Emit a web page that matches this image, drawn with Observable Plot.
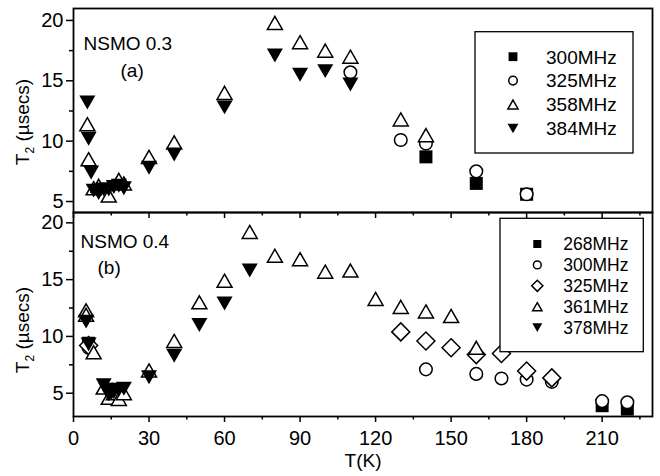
<!DOCTYPE html>
<html><head><meta charset="utf-8">
<script src="https://cdn.jsdelivr.net/npm/d3@7"></script>
<script src="https://cdn.jsdelivr.net/npm/@observablehq/plot@0.6"></script>
<style>
body{margin:0;background:#fff;}
#chart{width:660px;height:476px;position:relative;overflow:hidden;}
#chart svg{display:block;overflow:visible;position:absolute;left:0;}
</style></head><body><div id="chart"></div>
<script>
// ---------- DATA ----------
// Panel (a) NSMO 0.3
const a300T = [140, 160, 180];
const a300V = [8.7, 6.5, 5.6];
const a325T = [110, 130, 140, 160, 180];
const a325V = [15.7, 10.1, 9.8, 7.5, 5.6];
const a358T = [5.5, 6, 8, 10, 14, 18, 20, 30, 40, 60, 80, 90, 100, 110, 130, 140];
const a358V = [11.4, 8.5, 6.1, 6.3, 5.5, 6.8, 6.5, 8.7, 9.9, 14.0, 19.8, 18.2, 17.5, 17.0, 11.8, 10.5];
const a384T = [5.5, 6, 7, 8, 10, 12, 14, 16, 18, 20, 30, 40, 60, 80, 90, 100, 110];
const a384V = [13.2, 10.2, 7.4, 5.9, 5.7, 6.0, 6.0, 6.2, 6.3, 6.1, 7.8, 8.9, 12.8, 17.1, 15.5, 15.8, 14.7];
// Panel (b) NSMO 0.4
const b268T = [6, 210, 220];
const b268V = [9.4, 3.9, 3.6];
const b300T = [6, 140, 160, 170, 180, 190, 210, 220];
const b300V = [9.0, 7.1, 6.7, 6.3, 6.2, 6.0, 4.3, 4.2];
const b325T = [6, 130, 140, 150, 160, 170, 180, 190];
const b325V = [9.2, 10.4, 9.6, 9.0, 8.4, 8.5, 6.95, 6.35];
const b361T = [5, 5, 8, 12, 14, 16, 18, 20, 30, 40, 50, 60, 70, 80, 90, 100, 110, 120, 130, 140, 150, 160];
const b361V = [12.3, 11.9, 8.6, 5.5, 4.6, 5.0, 4.5, 5.0, 7.0, 9.6, 13.0, 14.9, 19.2, 17.1, 16.8, 15.7, 15.8, 13.3, 12.6, 12.2, 11.8, 9.0];
const b378T = [5, 6, 12, 13, 14, 15, 16, 18, 20, 30, 40, 50, 60, 70];
const b378V = [11.3, 9.3, 5.7, 5.3, 4.9, 5.0, 5.1, 5.3, 5.4, 6.4, 8.3, 11.0, 12.9, 15.8];
// Tick values
const xMajor = [0, 30, 60, 90, 120, 150, 180, 210];
const xMinor = [15, 45, 75, 105, 135, 165, 195, 225];
const yMajor = [5, 10, 15, 20];
const yMinor = [7.5, 12.5, 17.5];
// Labels
const panelNames = ["NSMO 0.3", "NSMO 0.4"];
const panelTags = ["(a)", "(b)"];
const legendA = ["300MHz", "325MHz", "358MHz", "384MHz"];
const legendB = ["268MHz", "300MHz", "325MHz", "361MHz", "378MHz"];
const xTitle = "T(K)";

// ---------- SYMBOLS ----------
const FONT = '"Liberation Sans", Arial, Helvetica, sans-serif';
function symbolOf(fn){ return {draw(ctx, size){ const r = Math.sqrt(size/Math.PI); fn(ctx, r); }}; }
const SQUARE = symbolOf((c,r)=>{c.moveTo(-r,-r);c.lineTo(r,-r);c.lineTo(r,r);c.lineTo(-r,r);c.closePath();});
const CIRCLE = symbolOf((c,r)=>{c.moveTo(r,0);c.arc(0,0,r,0,2*Math.PI);c.closePath();});
const TRI_UP = symbolOf((c,r)=>{const h=0.87*r;c.moveTo(0,-h);c.lineTo(r,h);c.lineTo(-r,h);c.closePath();});
const TRI_DOWN = symbolOf((c,r)=>{const h=0.87*r;c.moveTo(0,h);c.lineTo(r,-h);c.lineTo(-r,-h);c.closePath();});
const DIAMOND = symbolOf((c,r)=>{c.moveTo(0,-r);c.lineTo(r,0);c.lineTo(0,r);c.lineTo(-r,0);c.closePath();});
const STYLE = {
  square: {symbol: SQUARE, r: 6.5, fill: "black", stroke: "none"},
  circle: {symbol: CIRCLE, r: 6.3, fill: "white", stroke: "black", strokeWidth: 1.5},
  up: {symbol: TRI_UP, r: 7.5, fill: "white", stroke: "black", strokeWidth: 1.5},
  down: {symbol: TRI_DOWN, r: 8, fill: "black", stroke: "none"},
  diamond: {symbol: DIAMOND, r: 9, fill: "white", stroke: "black", strokeWidth: 1.5}
};
const rows = (T, V) => T.map((t, i) => ({t, v: V[i]}));

function makePanel(cfg){
  const marks = [
    Plot.axisY({ticks: yMajor, tickSize: 7, tickPadding: 3, strokeWidth: 1.5, label: null, fontSize: 20}),
    Plot.axisY({ticks: yMinor, tickSize: 4, fill: "none", strokeWidth: 1.5}),
    Plot.axisX({ticks: xMajor, tickSize: 6, tickPadding: 8, strokeWidth: 1.5, label: null, fontSize: 20, fill: cfg.showX ? "black" : "none"}),
    Plot.axisX({ticks: xMinor, tickSize: 3.5, fill: "none", strokeWidth: 1.5}),
    ...cfg.series.map(s => Plot.dot(rows(s.t, s.v), {x: "t", y: "v", ...STYLE[s.shape]})),
    Plot.text([cfg.name], {text: d => d, frameAnchor: "top-left", textAnchor: "start", dx: cfg.nameDx, dy: cfg.nameDy, fontSize: 19}),
    Plot.text([cfg.tag], {text: d => d, frameAnchor: "top-left", textAnchor: "start", dx: cfg.tagDx, dy: cfg.tagDy, fontSize: 19}),
    Plot.frame({stroke: "black", strokeWidth: 1.8})
  ];
  if (cfg.showX) marks.push(Plot.text([xTitle], {text: d => d, frameAnchor: "bottom", dy: 50, fontSize: 19}));
  const svg = Plot.plot({
    width: 660, height: cfg.height,
    marginLeft: 73, marginRight: 8, marginTop: cfg.marginTop, marginBottom: cfg.marginBottom,
    x: {domain: [0, 230], label: null},
    y: {domain: cfg.yDomain, label: null},
    style: {fontFamily: FONT, color: "black", background: "transparent", overflow: "visible"},
    marks
  });
  const s = d3.select(svg);
  // y-axis title with subscript
  const t = s.append("text").attr("transform", `translate(29,${cfg.yTitleY}) rotate(-90)`)
    .attr("text-anchor", "middle").attr("font-size", 19).attr("font-family", FONT).attr("fill", "black");
  t.append("tspan").text("T");
  t.append("tspan").attr("font-size", 12).attr("dy", 5).text("2");
  t.append("tspan").attr("dy", -5).text(" (\u00b5secs)");
  // legend
  const L = cfg.legend;
  const g = s.append("g").attr("text-anchor", "start");
  g.append("rect").attr("x", L.x).attr("y", L.y).attr("width", L.w).attr("height", L.h)
    .attr("fill", "white").attr("stroke", "black").attr("stroke-width", 1.3);
  cfg.series.forEach((ser, i) => {
    const st = STYLE[ser.shape];
    const rr = st.r * L.scale;
    const y = L.row0 + i * L.dy;
    g.append("path").attr("transform", `translate(${L.sx},${y})`)
      .attr("d", d3.symbol(st.symbol, rr * rr * Math.PI)())
      .attr("fill", st.fill).attr("stroke", st.stroke).attr("stroke-width", st.strokeWidth || 0);
    g.append("text").attr("x", L.tx).attr("y", y).attr("dy", "0.36em").attr("text-anchor", "start")
      .attr("font-size", L.fs).attr("font-family", FONT).attr("fill", "black").text(L.labels[i]);
  });
  return svg;
}

const topPanel = makePanel({
  height: 220, marginTop: 8, marginBottom: 8, yDomain: [4.09, 20.99], showX: false,
  name: panelNames[0], tag: panelTags[0], nameDx: 10, nameDy: 27.5, tagDx: 47, tagDy: 55,
  yTitleY: 122,
  series: [
    {t: a300T, v: a300V, shape: "square"},
    {t: a325T, v: a325V, shape: "circle"},
    {t: a358T, v: a358V, shape: "up"},
    {t: a384T, v: a384V, shape: "down"}
  ],
  legend: {x: 475, y: 31.7, w: 158, h: 121.3, sx: 513, tx: 546, row0: 56.7, dy: 23.9, fs: 19, scale: 0.68, labels: legendA}
});
const bottomPanel = makePanel({
  height: 264, marginTop: 0, marginBottom: 60, yDomain: [2.95, 20.91], showX: true,
  name: panelNames[1], tag: panelTags[1], nameDx: 7, nameDy: 22, tagDx: 24, tagDy: 47.5,
  yTitleY: 118,
  series: [
    {t: b268T, v: b268V, shape: "square"},
    {t: b300T, v: b300V, shape: "circle"},
    {t: b325T, v: b325V, shape: "diamond"},
    {t: b361T, v: b361V, shape: "up"},
    {t: b378T, v: b378V, shape: "down"}
  ],
  legend: {x: 500, y: 6.3, w: 143.3, h: 133.4, sx: 537.3, tx: 563.3, row0: 32, dy: 20.9, fs: 17.5, scale: 0.62, labels: legendB}
});
topPanel.style.top = "0px";
bottomPanel.style.top = "212px";
const chart = document.getElementById("chart");
chart.appendChild(topPanel);
chart.appendChild(bottomPanel);
</script>
</body></html>
